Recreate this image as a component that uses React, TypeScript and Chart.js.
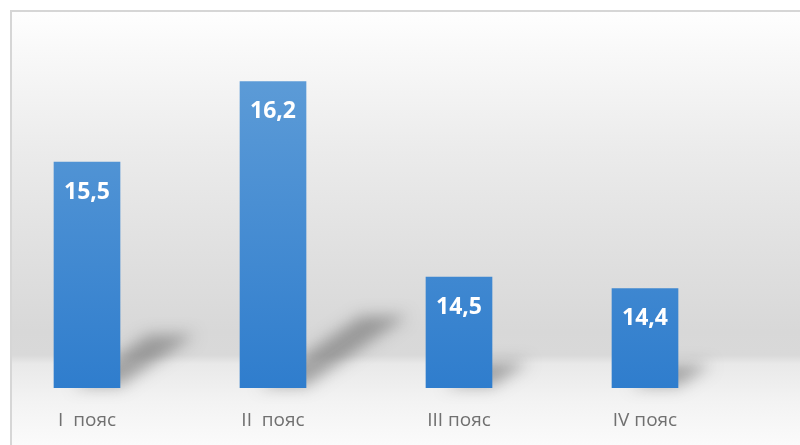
import React, { useEffect, useRef } from "react";
import { Chart, registerables } from "chart.js";

Chart.register(...registerables);

const categories = ["I  пояс", "II  пояс", "III пояс", "IV пояс"];
const values = [15.5, 16.2, 14.5, 14.4];
const yMin = 13.535;
const yMax = 16.735;

const shadowPlugin = {
  id: "barShadow",
  beforeDatasetsDraw(chart: any) {
    const ctx = chart.ctx;
    const meta = chart.getDatasetMeta(0);
    const off = 5000;
    const B = chart.chartArea.bottom;
    ctx.save();
    ctx.shadowColor = "rgba(90,90,90,0.5)";
    ctx.shadowBlur = 15;
    ctx.shadowOffsetX = off;
    ctx.shadowOffsetY = 0;
    ctx.fillStyle = "#000";
    meta.data.forEach((bar: any) => {
      const w = bar.width;
      const L = bar.x - w / 2;
      const R = bar.x + w / 2;
      const h = B - bar.y;
      const dx = 0.33 * h;
      const dy = 0.235 * h;
      ctx.beginPath();
      ctx.moveTo(L + w * 0.3 - off, B - 2);
      ctx.lineTo(R - off, B - 2);
      ctx.lineTo(R + dx - off, B - dy);
      ctx.lineTo(L + dx + w * 0.3 - off, B - dy);
      ctx.closePath();
      ctx.fill();
    });
    ctx.restore();
  },
};

const labelPlugin = {
  id: "barLabels",
  afterDatasetsDraw(chart: any) {
    const ctx = chart.ctx;
    const meta = chart.getDatasetMeta(0);
    ctx.save();
    ctx.fillStyle = "#ffffff";
    ctx.font = "bold 23px 'Noto Sans', sans-serif";
    ctx.textAlign = "center";
    ctx.textBaseline = "middle";
    meta.data.forEach((bar: any, i: number) => {
      const txt = String(values[i]).replace(".", ",");
      ctx.fillText(txt, bar.x, bar.y + 30);
    });
    ctx.restore();
  },
};

export default function App() {
  const ref = useRef<HTMLCanvasElement | null>(null);
  useEffect(() => {
    if (!ref.current) return;
    const chart = new Chart(ref.current, {
      type: "bar",
      data: {
        labels: categories,
        datasets: [
          {
            data: values,
            backgroundColor: (c: any) => {
              const area = c.chart.chartArea;
              if (!area) return "#4a8fd4";
              const g = c.chart.ctx.createLinearGradient(0, 80, 0, area.bottom);
              g.addColorStop(0, "#5c9bd7");
              g.addColorStop(1, "#2f7dcd");
              return g;
            },
            barThickness: 66,
            borderWidth: 0,
          },
        ],
      },
      options: {
        animation: false,
        responsive: false,
        maintainAspectRatio: false,
        events: [],
        layout: { padding: { left: 0, right: 62, top: 20, bottom: 0 } },
        plugins: {
          legend: { display: false },
          tooltip: { enabled: false },
        },
        scales: {
          x: {
            grid: { display: false, drawTicks: false },
            border: { display: false },
            afterFit: (scale: any) => {
              scale.height = 57;
            },
            ticks: {
              color: "#707070",
              padding: 21,
              font: { family: "'Open Sans', sans-serif", size: 19 },
            },
          },
          y: {
            display: false,
            min: yMin,
            max: yMax,
          },
        },
      },
      plugins: [shadowPlugin, labelPlugin],
    });
    return () => chart.destroy();
  }, []);

  return (
    <div
      style={{
        position: "fixed",
        left: 0,
        top: 0,
        width: 800,
        height: 445,
        overflow: "hidden",
        background: "#ffffff",
      }}
    >
      <div
        style={{
          position: "absolute",
          left: 10,
          top: 10,
          width: 820,
          height: 460,
          borderTop: "2px solid #d6d6d6",
          borderLeft: "2px solid #d6d6d6",
          background:
            "linear-gradient(to bottom, #fefefe 0px, #f6f6f6 60px, #ebebeb 140px, #e0e0e0 240px, #d8d8d8 320px, #d9d9d9 343px, #e9e9e9 352px, #f3f3f3 390px, #fbfbfb 435px)",
        }}
      />
      <canvas
        ref={ref}
        width={806}
        height={445}
        style={{ position: "absolute", left: -6, top: 0, width: 806, height: 445 }}
      />
    </div>
  );
}
